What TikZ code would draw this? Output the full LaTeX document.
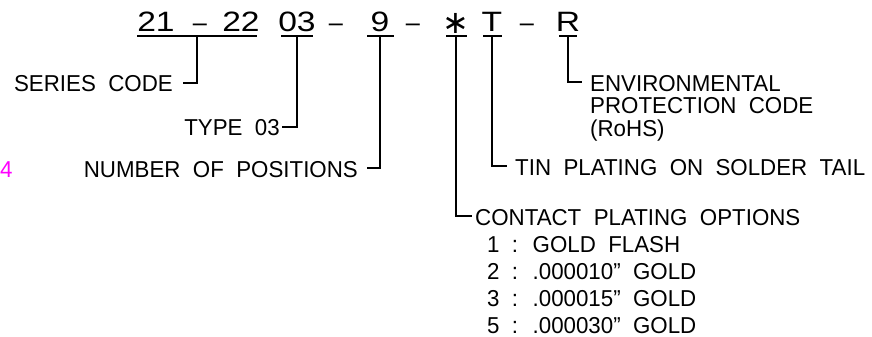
\documentclass[tikz,border=0pt]{standalone}
\usepackage{fontspec}
\setmainfont{Liberation Sans}[WordSpace=2, FakeStretch=0.97]
\newfontfamily\codefont{Liberation Sans}[WordSpace=2, FakeStretch=1.2]
\newfontfamily\symfont{DejaVu Sans}
\usetikzlibrary{calc}
\definecolor{mag}{RGB}{255,0,255}
\begin{document}
\begin{tikzpicture}[x=1pt,y=-1pt,
  lblw/.style={font=\fontsize{23}{23}\selectfont, inner sep=0pt, text depth=0pt, anchor=base west},
  lble/.style={font=\fontsize{23}{23}\selectfont, inner sep=0pt, text depth=0pt, anchor=base east},
  code/.style={font=\codefont\fontsize{28}{28}\selectfont, inner sep=0pt, anchor=base},
  sepmark/.style={font=\fontsize{26}{26}\selectfont, inner sep=0pt, anchor=base},
  wire/.style={line width=1.5pt}]
\useasboundingbox (0,0) rectangle (872,337);
% top row
\node[code] (c21) at (156,32) {21};
\node[sepmark] (d1) at (200,32) {–};
\node[code] (c22) at (241,32) {22};
\node[code] (c03) at (297,32) {03};
\node[sepmark] (d2) at (336,32) {–};
\node[code] (c9) at (380,32) {9};
\node[sepmark] (d3) at (413,32) {–};
\node[code, font=\symfont\fontsize{32}{32}\selectfont] (cst) at (456,34) {∗};
\node[code] (cT) at (492,32) {T};
\node[sepmark] (d4) at (527,32) {–};
\node[code] (cR) at (568,32) {R};
% underlines
\coordinate (a1) at (137,36); \coordinate (b1) at (257,36); \coordinate (u1) at (197,36);
\coordinate (a2) at (281,36); \coordinate (b2) at (313,36); \coordinate (u2) at (297,36);
\coordinate (a3) at (367,36); \coordinate (b3) at (394,36); \coordinate (u3) at (380,36);
\coordinate (a4) at (446,36); \coordinate (b4) at (467,36); \coordinate (u4) at (456,36);
\coordinate (a5) at (483,36); \coordinate (b5) at (502,36); \coordinate (u5) at (492,36);
\coordinate (a6) at (559,36); \coordinate (b6) at (577,36); \coordinate (u6) at (568,36);
\foreach \i in {1,...,6} \draw[wire] (a\i) -- (b\i);
% labels
\node[lble] (series) at (173,92) {SERIES CODE};
\node[lble] (type) at (280,135) {TYPE 03};
\node[lble] (num) at (358,177) {NUMBER OF POSITIONS};
\node[lblw, text=mag] (four) at (0,177) {4};
\node[lblw] (env1) at (590,91) {ENVIRONMENTAL};
\node[lblw] (env2) at (590,113) {PROTECTION CODE};
\node[lblw] (env3) at (590,136) {(RoHS)};
\node[lblw] (tin) at (515,175) {TIN PLATING ON SOLDER TAIL};
\node[lblw] (cont) at (475,225) {CONTACT PLATING OPTIONS};
\node[lblw] (o1) at (487,252) {1 : GOLD FLASH};
\node[lblw] (o2) at (487,279) {2 : .000010” GOLD};
\node[lblw] (o3) at (487,306) {3 : .000015” GOLD};
\node[lblw] (o5) at (487,333) {5 : .000030” GOLD};
% connector ends
\coordinate (e1) at ($(series.base east)+(10,-9)$);
\coordinate (e2) at ($(type.base east)+(2,-8)$);
\coordinate (e3) at ($(num.base east)+(9,-9)$);
\coordinate (e6) at ($(env1.base west)+(-8,-9)$);
\coordinate (e5) at ($(tin.base west)+(-8,-9)$);
\coordinate (e4) at ($(cont.base west)+(-3,-9)$);
\draw[wire] (u1) |- (e1);
\draw[wire] (u2) |- (e2);
\draw[wire] (u3) |- (e3);
\draw[wire] (u4) |- (e4);
\draw[wire] (u5) |- (e5);
\draw[wire] (u6) |- (e6);
\end{tikzpicture}
\end{document}
